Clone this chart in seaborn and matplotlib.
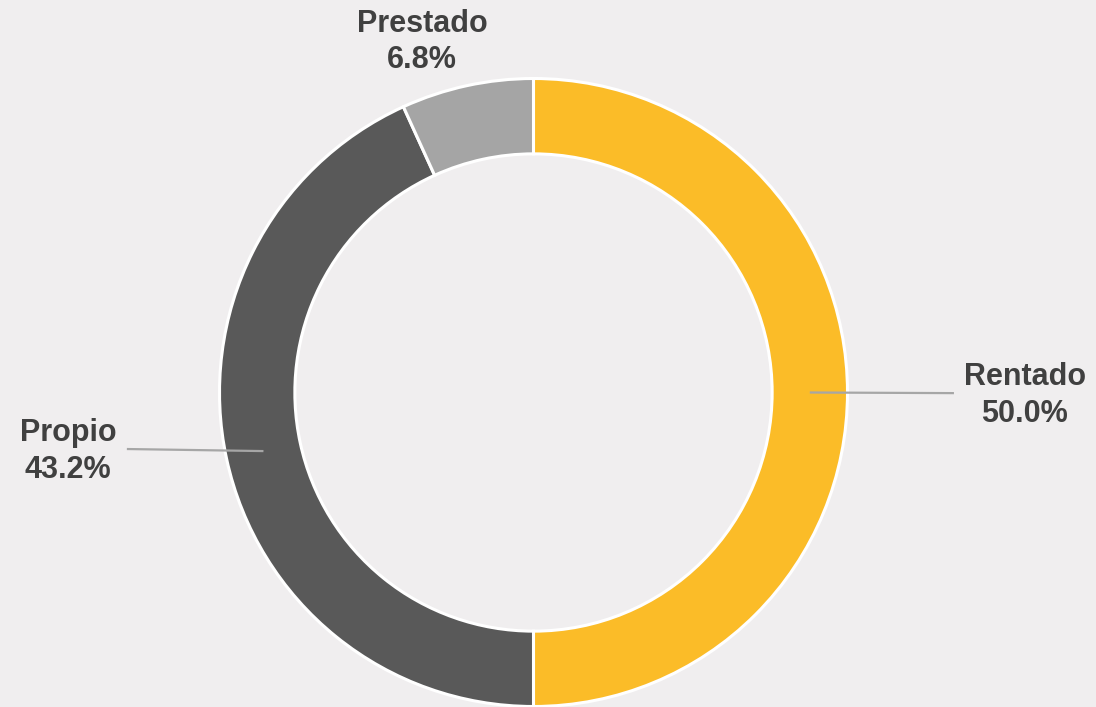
import numpy as np
import matplotlib
matplotlib.use("Agg")
import matplotlib.pyplot as plt
import seaborn as sns

categorias = ["Rentado", "Propio", "Prestado"]
porcentajes = [50.0, 43.2, 6.8]
colores = ["#FBBC28", "#595959", "#A5A5A5"]

sns.set_theme(style="white")
plt.rcParams["font.family"] = ["Liberation Sans", "DejaVu Sans"]

fondo = "#F0EEEF"
texto = "#404040"

fig = plt.figure(figsize=(10.96, 7.07), dpi=100, facecolor=fondo)
ax = fig.add_axes([0, 0, 1, 1])
ax.set_facecolor(fondo)

wedges, _ = ax.pie(
    porcentajes,
    colors=colores,
    startangle=90,
    counterclock=False,
    radius=1.0,
    wedgeprops=dict(width=0.24, edgecolor="white", linewidth=2.2),
)

# posiciones de etiquetas (x, y del texto, x final de la linea guia o None)
etiquetas = {
    "Rentado": (1.565, -0.010, 1.339),
    "Propio": (-1.483, -0.188, -1.295),
    "Prestado": (-0.355, 1.117, None),
}

r_mid = 0.88
for w, nombre, pct in zip(wedges, categorias, porcentajes):
    ang = np.deg2rad((w.theta1 + w.theta2) / 2)
    tx, ty, lx = etiquetas[nombre]
    if lx is not None:
        x0, y0 = r_mid * np.cos(ang), r_mid * np.sin(ang)
        ax.plot([x0, lx], [y0, ty + 0.008], color="#A6A6A6", lw=1.6,
                solid_capstyle="butt", zorder=5)
    ax.text(tx, ty, f"{nombre}\n{pct:.1f}%", ha="center", va="center",
            fontsize=22, fontweight="bold", color=texto, linespacing=1.28)

ax.set_xlim(-533.5 / 314, (1096 - 533.5) / 314)
ax.set_ylim(-(707 - 392.5) / 314, 392.5 / 314)
ax.set_aspect("equal")
ax.axis("off")

fig.savefig("out.png", dpi=100, facecolor=fondo)
